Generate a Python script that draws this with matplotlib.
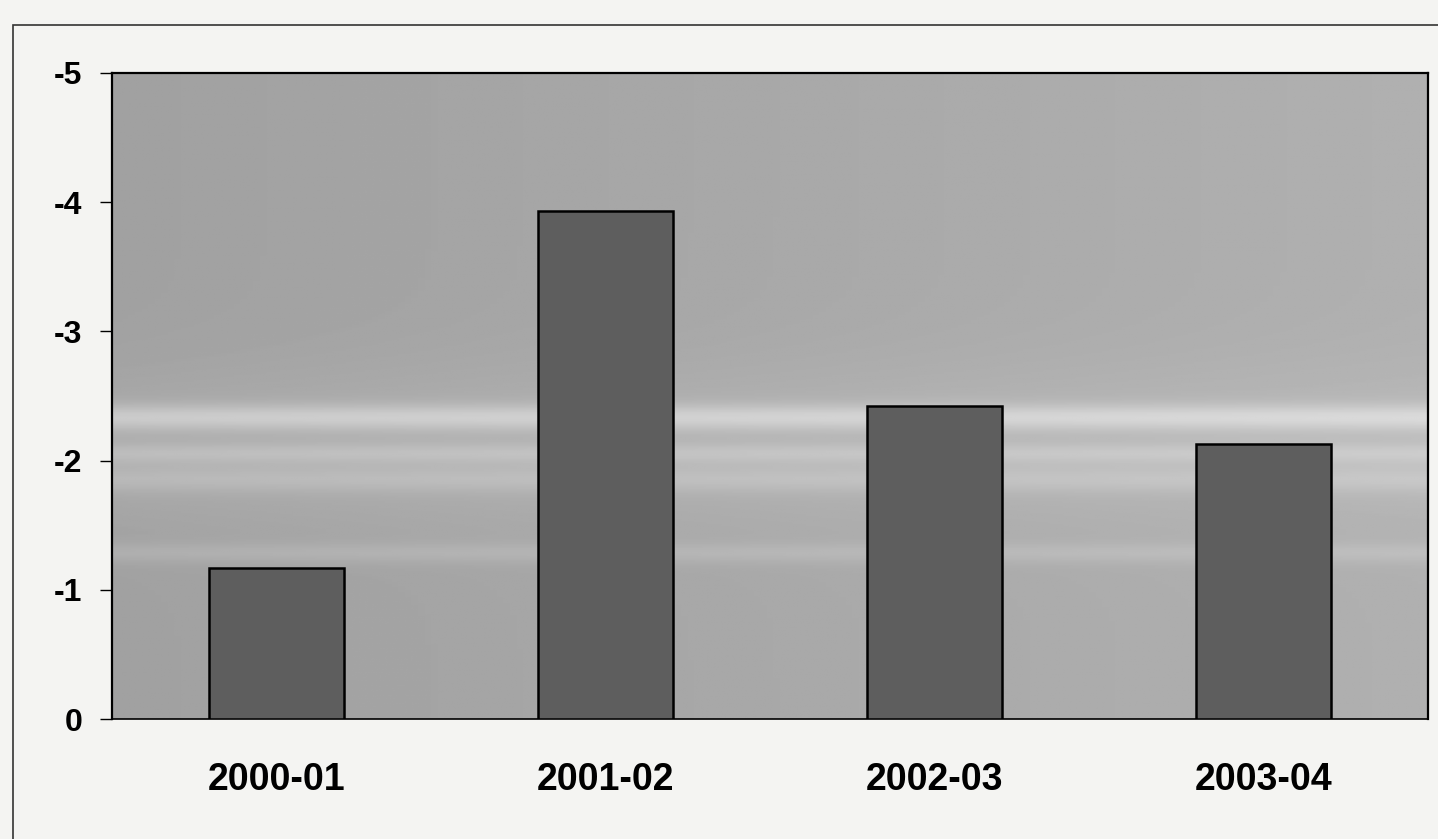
import matplotlib
matplotlib.use("Agg")
import matplotlib.pyplot as plt
import numpy as np
from matplotlib.patches import Rectangle

categories = ["2000-01", "2001-02", "2002-03", "2003-04"]
values = [-1.17, -3.93, -2.42, -2.13]
yticks = [0, -1, -2, -3, -4, -5]

plt.rcParams['font.family'] = ['Liberation Sans', 'DejaVu Sans']

fig = plt.figure(figsize=(14.38, 8.39), dpi=100)
fig.patch.set_facecolor('#f4f4f2')
ax = fig.add_axes([0.078, 0.143, 0.915, 0.770])

# outer frame
fig.patches.append(Rectangle((0.009, -0.02), 1.2, 0.99, transform=fig.transFigure,
                             fill=False, edgecolor='#333333', linewidth=1.2))

x = np.arange(len(categories))
ax.set_xlim(-0.5, len(categories) - 0.5)
ax.set_ylim(0, -5)

# background shading (scan-like lighter bands, lighter towards the right)
gy = np.linspace(0, -5, 400)
gx = np.linspace(0, 1, 200)
band = (0.13 * np.exp(-((gy + 2.33) / 0.10) ** 2)
        + 0.07 * np.exp(-((gy + 2.05) / 0.08) ** 2)
        + 0.06 * np.exp(-((gy + 1.85) / 0.10) ** 2)
        + 0.05 * np.exp(-((gy + 1.28) / 0.08) ** 2)
        + 0.04 * np.exp(-((gy + 2.1) / 0.6) ** 2))
shade = 0.63 + band[:, None] + 0.06 * gx[None, :]
ax.imshow(shade, extent=[-0.5, len(categories) - 0.5, 0, -5], origin='lower',
          cmap='gray', vmin=0, vmax=1, aspect='auto', zorder=0)

ax.bar(x, values, width=0.41, color='#5e5e5e', edgecolor='black', linewidth=1.8, zorder=3)

ax.set_xticks(x)
ax.set_xticklabels(categories, fontsize=27, fontweight='bold')
ax.set_yticks(yticks)
ax.set_yticklabels([str(t) for t in yticks], fontsize=23, fontweight='bold')
ax.tick_params(axis='x', length=0, pad=31)
ax.tick_params(axis='y', length=8.5, width=1, pad=13, direction='out')

for s in ['top', 'left', 'right']:
    ax.spines[s].set_linewidth(1.6)
ax.spines['bottom'].set_linewidth(1.2)

fig.savefig("out.png", dpi=100, facecolor=fig.get_facecolor())
